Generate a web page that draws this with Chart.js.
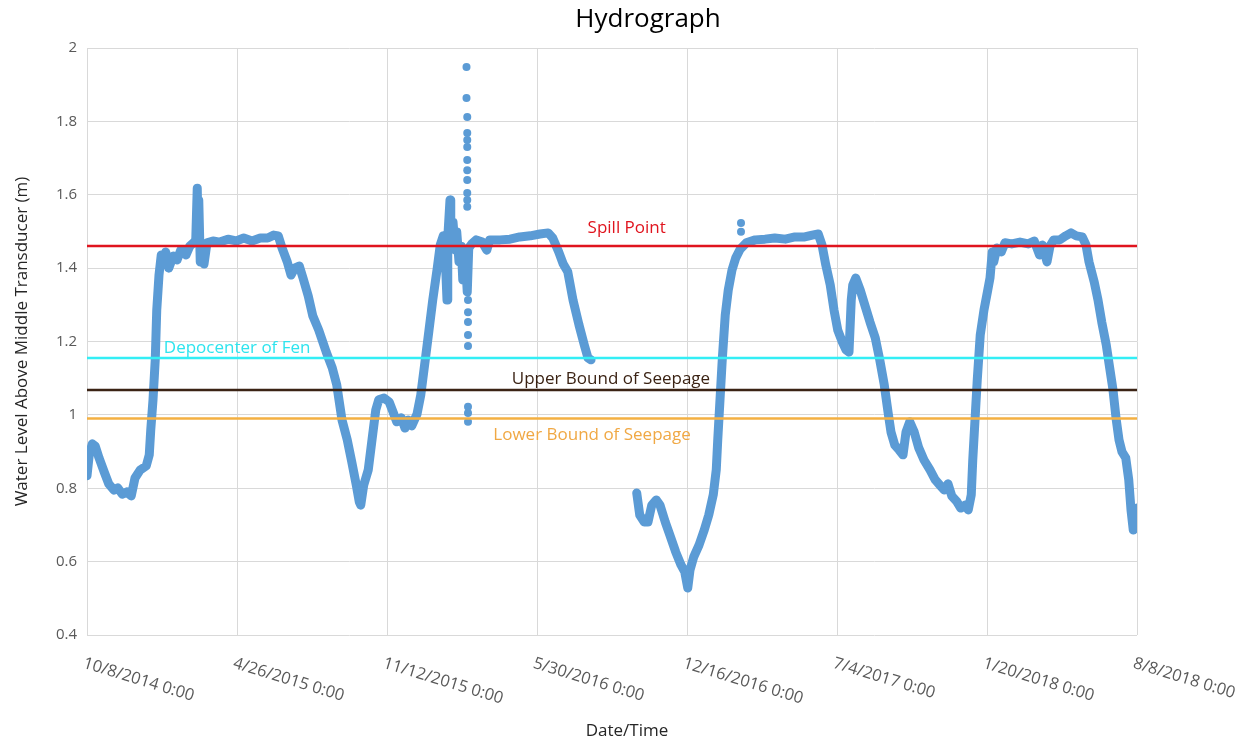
<!DOCTYPE html>
<html>
<head>
<meta charset="utf-8">
<title>Hydrograph</title>
<script src="https://cdn.jsdelivr.net/npm/chart.js@4.4.0/dist/chart.umd.min.js"></script>
<style>
  html, body { margin: 0; padding: 0; background: #fff; }
</style>
</head>
<body>
<canvas id="hydro" width="1256" height="744"></canvas>
<script>
// Logger dates are Excel serial days (10/8/2014 = 41920)
const xTickLabels = ['10/8/2014 0:00', '4/26/2015 0:00', '11/12/2015 0:00', '5/30/2016 0:00',
  '12/16/2016 0:00', '7/4/2017 0:00', '1/20/2018 0:00', '8/8/2018 0:00'];

const dateSerial = [
  41920, 41923, 41927, 41931, 41936, 41943, 41949, 41956, 41961, 41967, 41973, 41979, 41984, 41991,
  41999, 42003, 42005, 42008, 42011, 42013, 42016, 42019, 42021, 42025, 42029, 42035, 42040, 42045,
  42052, 42057, 42063, 42065, 42067, 42068, 42069, 42071, 42073, 42076, 42080, 42088, 42097, 42108,
  42119, 42129, 42140, 42151, 42161, 42169, 42175, 42180, 42187, 42192, 42197, 42203, 42208, 42215,
  42221, 42229, 42239, 42247, 42253, 42260, 42267, 42273, 42279, 42283, 42285, 42289, 42295, 42300,
  42305, 42309, 42316, 42323, 42328, 42333, 42339, 42344, 42348, 42353, 42360, 42365, 42371, 42376,
  42381, 42387, 42391, 42395, 42397, 42400, 42401, 42404, 42405, 42408, 42411, 42413, 42416, 42419,
  42421, 42424, 42427, 42429, 42433, 42439, 42447, 42453, 42457, 42471, 42484, 42497, 42511, 42524,
  42535, 42541, 42549, 42555, 42561, 42568, 42576, 42583, 42588, 42592,
  42620,
  42653, 42657, 42663, 42668, 42673, 42679, 42684, 42691, 42697, 42705, 42712, 42717, 42721, 42724,
  42729, 42736, 42743, 42749, 42755, 42759, 42761, 42764, 42767, 42771, 42775, 42780, 42785, 42791,
  42799, 42811, 42824, 42837, 42851, 42864, 42877, 42887, 42895, 42900, 42905, 42911, 42916, 42921,
  42927, 42932, 42936, 42939, 42941, 42945, 42951, 42957, 42964, 42971, 42977, 42983, 42988, 42992,
  42997, 43003, 43008, 43012, 43017, 43023, 43029, 43036, 43044, 43051, 43057, 43063, 43068, 43073,
  43080, 43085, 43091, 43095, 43099, 43101, 43104, 43107, 43111, 43116, 43121, 43124, 43127, 43129,
  43133, 43139, 43144, 43153, 43164, 43175, 43183, 43190, 43194, 43200, 43204, 43209, 43217, 43225,
  43232, 43239, 43247, 43252, 43256, 43263, 43268, 43273, 43279, 43283, 43288, 43292, 43296, 43300,
  43305, 43309, 43312, 43315, 43317, 43320
];

const waterLevel = [
  0.834, 0.891, 0.921, 0.915, 0.883, 0.844, 0.812, 0.795, 0.801, 0.784, 0.790, 0.779, 0.828, 0.850,
  0.861, 0.891, 0.959, 1.041, 1.150, 1.286, 1.381, 1.436, 1.417, 1.444, 1.400, 1.433, 1.422, 1.449,
  1.436, 1.460, 1.471, 1.477, 1.618, 1.504, 1.586, 1.417, 1.466, 1.411, 1.469, 1.474, 1.471, 1.479,
  1.474, 1.482, 1.474, 1.482, 1.482, 1.490, 1.488, 1.455, 1.417, 1.381, 1.400, 1.406, 1.373, 1.324,
  1.270, 1.231, 1.171, 1.128, 1.082, 0.986, 0.932, 0.872, 0.809, 0.763, 0.754, 0.809, 0.850, 0.932,
  1.013, 1.041, 1.046, 1.035, 1.008, 0.981, 0.992, 0.964, 0.986, 0.970, 1.002, 1.054, 1.150, 1.231,
  1.313, 1.400, 1.463, 1.488, 1.463, 1.313, 1.482, 1.586, 1.463, 1.526, 1.449, 1.499, 1.417, 1.460,
  1.368, 1.449, 1.335, 1.455, 1.466, 1.477, 1.471, 1.449, 1.477, 1.477, 1.479, 1.485, 1.488, 1.493,
  1.496, 1.482, 1.444, 1.411, 1.390, 1.313, 1.245, 1.191, 1.155, 1.150,
  null,
  0.787, 0.727, 0.708, 0.708, 0.754, 0.768, 0.754, 0.708, 0.673, 0.626, 0.591, 0.572, 0.528, 0.577,
  0.613, 0.645, 0.686, 0.727, 0.782, 0.850, 0.932, 1.041, 1.150, 1.272, 1.340, 1.395, 1.428, 1.452,
  1.469, 1.477, 1.479, 1.482, 1.479, 1.485, 1.485, 1.490, 1.493, 1.463, 1.409, 1.354, 1.286, 1.231,
  1.199, 1.177, 1.171, 1.313, 1.354, 1.373, 1.340, 1.300, 1.253, 1.210, 1.150, 1.082, 1.008, 0.953,
  0.918, 0.904, 0.891, 0.953, 0.981, 0.953, 0.910, 0.877, 0.850, 0.823, 0.809, 0.795, 0.812, 0.779,
  0.763, 0.746, 0.754, 0.741, 0.782, 0.877, 0.986, 1.095, 1.218, 1.286, 1.340, 1.373, 1.444, 1.417,
  1.455, 1.444, 1.469, 1.466, 1.471, 1.466, 1.474, 1.436, 1.463, 1.417, 1.460, 1.477, 1.477, 1.488,
  1.496, 1.488, 1.485, 1.463, 1.417, 1.362, 1.313, 1.253, 1.191, 1.136, 1.068, 0.992, 0.932, 0.899,
  0.883, 0.823, 0.741, 0.686, 0.727, 0.746
];

// isolated readings
const spikeSerial = [42426, 42426, 42427, 42427, 42427, 42427, 42427, 42427, 42427, 42427, 42427,
  42427, 42428, 42428, 42428, 42428, 42428, 42428, 42428, 42428, 42792, 42792];
const spikeLevel = [1.948, 1.864, 1.812, 1.768, 1.749, 1.730, 1.695, 1.667, 1.640, 1.605, 1.586,
  1.567, 1.313, 1.280, 1.253, 1.218, 1.188, 1.022, 1.005, 0.981, 1.523, 1.499];

const levelNames = ['Spill Point', 'Depocenter of Fen', 'Upper Bound of Seepage', 'Lower Bound of Seepage'];
const levelValues = [1.46, 1.155, 1.068, 0.99];

const levelStyle = [
  { color: '#e0141e', text: '#e0141e', at: 0.514, dy: -18 },
  { color: '#33eef5', text: '#2ee4ee', at: 0.143, dy: -10 },
  { color: '#3b2314', text: '#3b2314', at: 0.499, dy: -11 },
  { color: '#f4b042', text: '#f0a844', at: 0.481, dy: 17 }
];

const FONT = '"Open Sans", "Noto Sans", sans-serif';

function dateToSerial(label) {
  const [m, d, y] = label.split(' ')[0].split('/').map(Number);
  return (Date.UTC(y, m - 1, d) - Date.UTC(1899, 11, 30)) / 86400000;
}
const xTickSerials = xTickLabels.map(dateToSerial);
const xMin = xTickSerials[0];
const xMax = xTickSerials[xTickSerials.length - 1];

const levelSets = levelNames.map((name, i) => ({
  label: name,
  data: [{ x: xMin, y: levelValues[i] }, { x: xMax, y: levelValues[i] }],
  borderColor: levelStyle[i].color,
  borderWidth: 2.5,
  pointRadius: 0,
  order: 0
}));

const textPlugin = {
  id: 'hydroText',
  afterDraw(chart) {
    const { ctx, chartArea: area, scales: { x, y } } = chart;
    ctx.save();

    ctx.fillStyle = '#000';
    ctx.font = '26px ' + FONT;
    ctx.textAlign = 'center';
    ctx.textBaseline = 'middle';
    ctx.fillText('Hydrograph', 648, 20);

    // slanted date labels under each gridline
    ctx.font = '16.5px ' + FONT;
    ctx.fillStyle = '#595959';
    ctx.textAlign = 'left';
    ctx.textBaseline = 'top';
    x.ticks.forEach((t, i) => {
      ctx.save();
      ctx.translate(x.getPixelForValue(t.value) - 1, area.bottom + 20);
      ctx.rotate(17 * Math.PI / 180);
      ctx.fillText(xTickLabels[i], 0, 0);
      ctx.restore();
    });

    ctx.font = '17px ' + FONT;
    ctx.fillStyle = '#262626';
    ctx.textAlign = 'center';
    ctx.textBaseline = 'middle';
    ctx.fillText('Date/Time', 627, 731);

    ctx.font = '17px ' + FONT;
    levelNames.forEach((name, i) => {
      const s = levelStyle[i];
      ctx.fillStyle = s.text;
      ctx.fillText(name, area.left + s.at * area.width, y.getPixelForValue(levelValues[i]) + s.dy);
    });
    ctx.restore();
  }
};

new Chart(document.getElementById('hydro'), {
  type: 'line',
  data: {
    datasets: [
      ...levelSets,
      {
        label: 'Spikes',
        data: spikeSerial.map((s, i) => ({ x: s, y: spikeLevel[i] })),
        showLine: false,
        pointRadius: 4,
        pointBackgroundColor: '#5b9bd5',
        pointBorderWidth: 0,
        order: 1
      },
      {
        label: 'Water Level',
        data: dateSerial.map((s, i) => ({ x: s, y: waterLevel[i] })),
        borderColor: '#5b9bd5',
        borderWidth: 9,
        borderJoinStyle: 'round',
        borderCapStyle: 'round',
        pointRadius: 0,
        spanGaps: false,
        order: 2
      }
    ]
  },
  options: {
    responsive: false,
    animation: false,
    layout: { padding: { top: 48, right: 119, bottom: 0, left: 0 } },
    plugins: {
      legend: { display: false },
      tooltip: { enabled: false }
    },
    scales: {
      x: {
        type: 'linear',
        min: xMin,
        max: xMax,
        afterBuildTicks: (scale) => { scale.ticks = xTickSerials.map(v => ({ value: v })); },
        afterFit: (scale) => { scale.height = 109; },
        ticks: { display: false },
        grid: { color: '#d9d9d9', lineWidth: 1, drawTicks: false },
        border: { display: false }
      },
      y: {
        min: 0.4,
        max: 2,
        afterFit: (scale) => { scale.width = 87; },
        ticks: {
          stepSize: 0.2,
          padding: 10,
          color: '#595959',
          font: { family: FONT, size: 15 },
          callback: (v) => String(+v.toFixed(1))
        },
        grid: { color: '#d9d9d9', lineWidth: 1, drawTicks: false },
        border: { display: false },
        title: {
          display: true,
          text: 'Water Level Above Middle Transducer (m)',
          color: '#262626',
          font: { family: FONT, size: 17 },
          padding: { top: 12, bottom: 0 }
        }
      }
    }
  },
  plugins: [textPlugin]
});
</script>
</body>
</html>
